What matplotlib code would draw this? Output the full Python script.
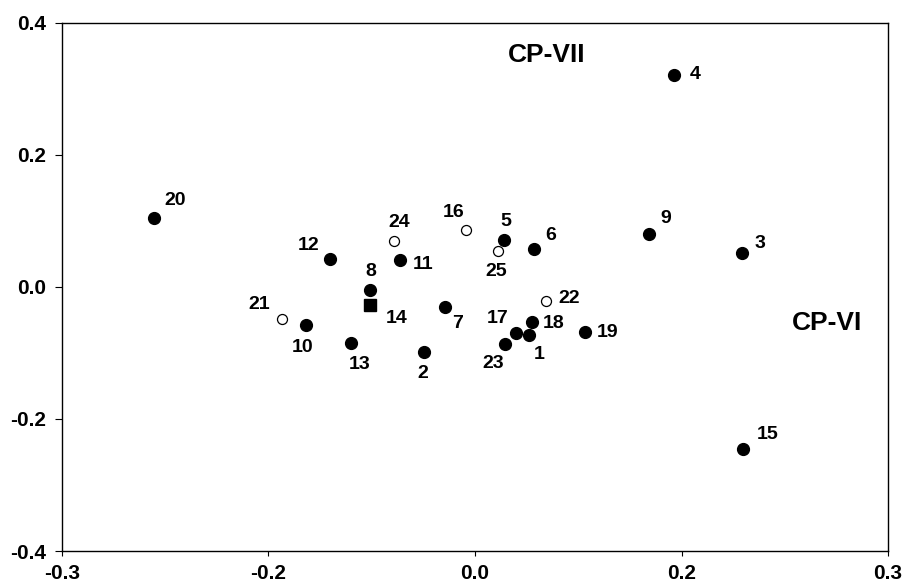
import numpy as np
import matplotlib
matplotlib.use("Agg")
import matplotlib.pyplot as plt

# point labels, coordinates (CP-VI, CP-VII) and symbol type
labels = ["1", "2", "3", "4", "5", "6", "7", "8", "9", "10", "11", "12", "13",
          "14", "15", "16", "17", "18", "19", "20", "21", "22", "23", "24", "25"]
cp6 = [0.052, -0.049, 0.259, 0.193, 0.028, 0.057, -0.029, -0.102, 0.169, -0.164,
       -0.073, -0.140, -0.120, -0.102, 0.260, -0.009, 0.040, 0.055, 0.107, -0.311,
       -0.187, 0.069, 0.029, -0.078, 0.022]
cp7 = [-0.073, -0.099, 0.051, 0.321, 0.071, 0.057, -0.030, -0.005, 0.080, -0.057,
       0.040, 0.042, -0.085, -0.028, -0.246, 0.086, -0.070, -0.053, -0.068, 0.104,
       -0.048, -0.021, -0.087, 0.070, 0.055]
kind = ["f", "f", "f", "f", "f", "f", "f", "f", "f", "f", "f", "f", "f",
        "s", "f", "o", "f", "f", "f", "f", "o", "o", "f", "o", "o"]

xtick_vals = [-0.4, -0.2, 0.0, 0.2, 0.4]
xtick_labels = ["-0.3", "-0.2", "0.0", "0.2", "0.3"]
ytick_vals = [-0.4, -0.2, 0.0, 0.2, 0.4]
ytick_labels = ["-0.4", "-0.2", "0.0", "0.2", "0.4"]

# label offsets in pixels (dx, dy)
offsets = {"1": (10, -19), "2": (-2, -21), "3": (18, 10), "4": (21, 0),
           "5": (2, 18), "6": (17, 14), "7": (13, -17), "8": (1, 19),
           "9": (16, 16), "10": (-3, -23), "11": (23, -4), "12": (-22, 14),
           "13": (9, -22), "14": (27, -13), "15": (24, 15), "16": (-12, 18),
           "17": (-19, 15), "18": (22, -2), "19": (22, -1), "20": (21, 18),
           "21": (-23, 14), "22": (23, 2), "23": (-12, -19), "24": (5, 18),
           "25": (-2, -21)}

plt.rcParams['font.family'] = ['Liberation Sans', 'DejaVu Sans']

fig = plt.figure(figsize=(9.09, 5.84), dpi=100)
ax = fig.add_axes([0.0682, 0.0565, 0.9087, 0.9046])

x = np.array(cp6)
y = np.array(cp7)
k = np.array(kind)

m = k == "f"
ax.plot(x[m], y[m], 'o', ms=8.5, color='black', ls='none')
m = k == "o"
ax.plot(x[m], y[m], 'o', ms=7.2, mfc='white', mec='black', mew=0.9, ls='none')
m = k == "s"
ax.plot(x[m], y[m], 's', ms=8.5, color='black', ls='none')

for lab, xi, yi in zip(labels, cp6, cp7):
    dx, dy = offsets[lab]
    ax.annotate(lab, (xi, yi), xytext=(dx, dy), textcoords='offset pixels',
                ha='center', va='center', fontsize=14, fontweight='bold')

ax.text(0.069, 0.351, "CP-VII", ha='center', va='center', fontsize=19, fontweight='bold')
ax.text(0.3405, -0.054, "CP-VI", ha='center', va='center', fontsize=19, fontweight='bold')

ax.set_xlim(-0.4, 0.4)
ax.set_ylim(-0.4, 0.4)
ax.set_xticks(xtick_vals)
ax.set_xticklabels(xtick_labels)
ax.set_yticks(ytick_vals)
ax.set_yticklabels(ytick_labels)
ax.tick_params(axis='both', direction='out', width=0.8, labelsize=15)
ax.tick_params(axis='x', length=3.5, pad=6)
ax.tick_params(axis='y', length=5, pad=6.5)
for lab in ax.get_xticklabels() + ax.get_yticklabels():
    lab.set_fontweight('bold')
for s in ax.spines.values():
    s.set_linewidth(1.0)

fig.savefig("out.png", dpi=100)
